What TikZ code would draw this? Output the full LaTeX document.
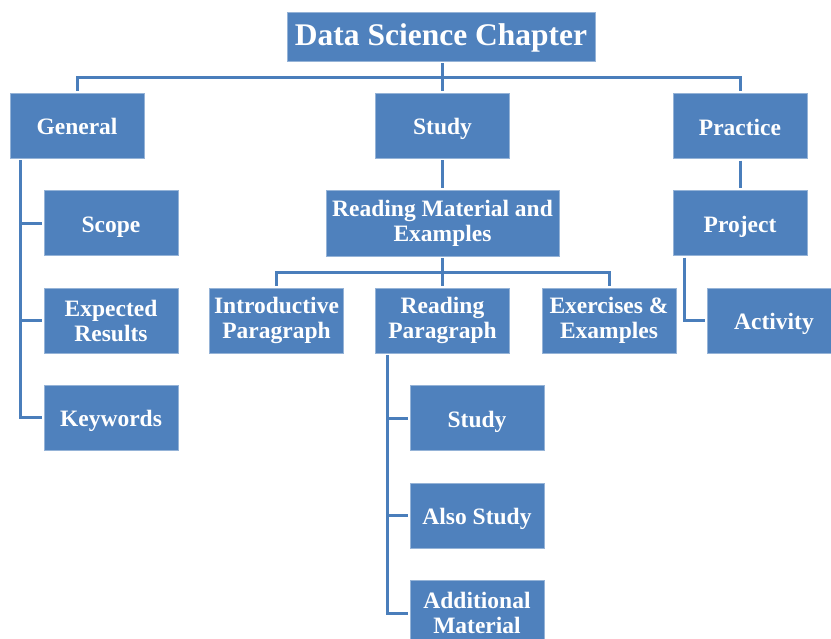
\documentclass[tikz,border=0pt]{standalone}
\usepackage{fontspec}
\setmainfont{Liberation Serif}
\usetikzlibrary{calc}
\definecolor{boxblue}{HTML}{4F81BD}
\definecolor{linkblue}{HTML}{4A7EBB}
\begin{document}
\begin{tikzpicture}[x=1pt, y=-1pt,
  box/.style={rectangle, fill=boxblue, draw=boxblue!60!white, line width=0.4pt,
    text=white, font=\fontsize{23.5}{25}\selectfont\bfseries, align=center,
    inner sep=0pt, minimum width=134pt, minimum height=65pt},
  single/.style={box, text height=20pt, text depth=2pt},
  titlebox/.style={box, font=\fontsize{31.5}{34}\selectfont\bfseries,
    text height=24pt, text depth=7pt, minimum width=308pt, minimum height=49pt},
  link/.style={draw=linkblue, line width=3pt}]
\path[use as bounding box, clip] (0,0) rectangle (831,638);

% boxes
\node[titlebox] (title) at (441,36.5) {Data Science Chapter};
\node[single] (general)  at (77,125.5)    {General};
\node[single] (study)    at (442.5,125.5) {Study};
\node[single] (practice) at (740,126)     {Practice};

\node[single] (scope)    at (111,223)   {Scope};
\node[box]    (expected) at (111,320.5) {Expected\\Results};
\node[single] (keywords) at (111,417.5) {Keywords};

\node[box, minimum width=233pt, minimum height=66pt] (material) at (442.5,223) {Reading Material and\\Examples};
\node[box] (intro)    at (276.5,320.5) {Introductive\\Paragraph};
\node[box] (reading)  at (442.5,320.5) {Reading\\Paragraph};
\node[box] (exercise) at (609,320.5)   {Exercises \&\\Examples};

\node[single] (substudy) at (477,418)   {Study};
\node[single] (also)     at (477,515.5) {Also Study};
\node[box]    (extra)    at (477,613)   {Additional\\Material};

\node[single] (project)  at (740,223)   {Project};
\node[single] (activity) at (774,320.5) {Activity};

% connectors
\begin{scope}[link, shorten <=2pt, shorten >=2pt]
  \draw (study.north |- title.south) -- (study.north);
  \draw (general.north) |- ($(title.south)!0.5!(study.north)$) -| (practice.north);

  \coordinate (gtrunk) at ([xshift=11pt]general.south west);
  \draw (gtrunk) |- (scope.west);
  \draw (gtrunk) |- (expected.west);
  \draw (gtrunk) |- (keywords.west);

  \draw (study.south) -- (material.north);
  \draw (material.south) -- (reading.north);
  \draw (intro.north) |- ($(material.south)!0.5!(reading.north)$) -| (exercise.north);

  \coordinate (rtrunk) at ([xshift=12pt]reading.south west);
  \draw (rtrunk) |- (substudy.west);
  \draw (rtrunk) |- (also.west);
  \draw (rtrunk) |- (extra.west);

  \draw (practice.south) -- (project.north);
  \coordinate (ptrunk) at ([xshift=12pt]project.south west);
  \draw (ptrunk) |- (activity.west);
\end{scope}
\end{tikzpicture}
\end{document}
